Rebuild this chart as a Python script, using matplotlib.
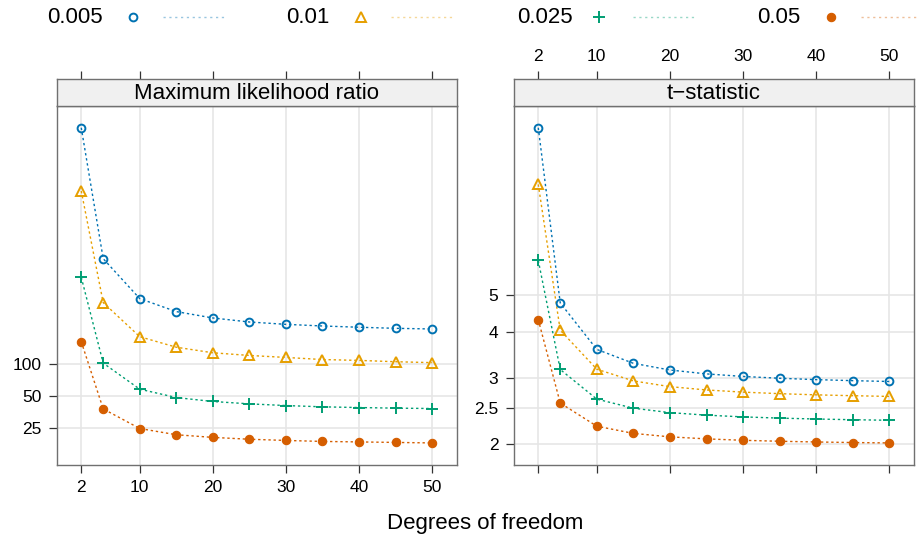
import matplotlib
matplotlib.use('Agg')
import matplotlib.pyplot as plt
import numpy as np
from matplotlib.lines import Line2D
from matplotlib.ticker import FixedLocator, FixedFormatter, NullLocator

plt.rcParams['font.family'] = ['Liberation Sans', 'DejaVu Sans']

# ---------------- data ----------------
df = [2, 5, 10, 15, 20, 25, 30, 35, 40, 45, 50]
alpha_labels = ['0.005', '0.01', '0.025', '0.05']

mlr_0005 = [15770, 950, 403, 305, 266, 244, 232, 224, 218, 213, 210]
mlr_001 = [4056, 370, 178, 142, 126, 119, 114, 109, 107, 104, 102]
mlr_0025 = [637, 101, 57.7, 48.2, 44.3, 42.1, 40.6, 39.5, 38.9, 38.4, 38.1]
mlr_005 = [160, 37.8, 24.8, 21.7, 20.5, 19.7, 19.2, 18.8, 18.6, 18.4, 18.2]

t_0005 = [14.089, 4.773, 3.581, 3.286, 3.153, 3.078, 3.030, 2.996, 2.971, 2.952, 2.937]
t_001 = [9.925, 4.032, 3.169, 2.947, 2.845, 2.787, 2.750, 2.724, 2.704, 2.690, 2.678]
t_0025 = [6.205, 3.163, 2.634, 2.490, 2.423, 2.385, 2.360, 2.342, 2.329, 2.319, 2.311]
t_005 = [4.303, 2.571, 2.228, 2.131, 2.086, 2.060, 2.042, 2.030, 2.021, 2.014, 2.009]

x_ticks = [2, 10, 20, 30, 40, 50]
mlr_ticks = [25, 50, 100]
mlr_tick_labels = ['25', '50', '100']
t_ticks = [2, 2.5, 3, 4, 5]
t_tick_labels = ['2', '2.5', '3', '4', '5']

panel_titles = ['Maximum likelihood ratio', 't\u2212statistic']
xlabel = 'Degrees of freedom'

# ---------------- styles ----------------
colors = ['#0072B2', '#E69F00', '#009E73', '#D55E00']
mstyles = [dict(marker='o', ms=5.6, mfc='none', mew=1.4),
           dict(marker='^', ms=7.4, mfc='none', mew=1.4),
           dict(marker='+', ms=8.2, mew=1.4),
           dict(marker='o', ms=6.0, mew=0.8)]
border = '#707070'
grid_col = '#e6e6e6'

W, H = 917, 540
fig = plt.figure(figsize=(W / 100, H / 100), dpi=100)

def fx(px):
    return px / W

def fy(py):
    return 1 - py / H

xlim = (2 - 0.07 * 48, 50 + 0.07 * 48)

panels = [
    dict(left=56.7, right=456.7, series=[mlr_0005, mlr_001, mlr_0025, mlr_005],
         yt=mlr_ticks, ytl=mlr_tick_labels, bottom_labels=True),
    dict(left=513.7, right=914.0, series=[t_0005, t_001, t_0025, t_005],
         yt=t_ticks, ytl=t_tick_labels, bottom_labels=False),
]
top_panel, bot_panel, strip_top = 105.7, 465.0, 79.0

for p, title in zip(panels, panel_titles):
    ax = fig.add_axes([fx(p['left']), fy(bot_panel), fx(p['right'] - p['left']),
                       (bot_panel - top_panel) / H])
    allv = np.concatenate([np.asarray(s, float) for s in p['series']])
    lo, hi = np.log(allv.min()), np.log(allv.max())
    ext = 0.07 * (hi - lo)
    ax.set_yscale('log')
    ax.set_ylim(np.exp(lo - ext), np.exp(hi + ext))
    ax.set_xlim(*xlim)
    for gx in x_ticks:
        ax.axvline(gx, color=grid_col, lw=1.2, zorder=0)
    for gy in p['yt']:
        ax.axhline(gy, color=grid_col, lw=1.2, zorder=0)
    for s, c, ms in zip(p['series'], colors, mstyles):
        ax.plot(df, s, color=c, lw=1.0, ls=(0, (1.7, 2.0)), zorder=2)
        ax.plot(df, s, ls='none', color=c, mec=c, zorder=3, **ms)
    ax.yaxis.set_major_locator(FixedLocator(p['yt']))
    ax.yaxis.set_major_formatter(FixedFormatter(p['ytl']))
    ax.yaxis.set_minor_locator(NullLocator())
    ax.xaxis.set_major_locator(FixedLocator(x_ticks))
    ax.xaxis.set_minor_locator(NullLocator())
    ax.tick_params(axis='both', direction='out', length=6, width=0.9,
                   color='#333333', labelsize=12.5, pad=5, top=False, right=False)
    if not p['bottom_labels']:
        ax.tick_params(axis='x', labelbottom=False)
    for sp in ax.spines.values():
        sp.set_color(border)
        sp.set_linewidth(1.0)

    # strip
    sax = fig.add_axes([fx(p['left']), fy(top_panel), fx(p['right'] - p['left']),
                        (top_panel - strip_top) / H])
    sax.set_facecolor('#f0f0f0')
    sax.set_xlim(*xlim)
    sax.set_ylim(0, 1)
    sax.xaxis.set_major_locator(FixedLocator(x_ticks))
    sax.xaxis.set_minor_locator(NullLocator())
    sax.xaxis.tick_top()
    sax.set_yticks([])
    sax.tick_params(axis='x', direction='out', length=6, width=0.9, color='#333333',
                    labelsize=12.5, pad=5, labeltop=not p['bottom_labels'],
                    bottom=False, labelbottom=False)
    for sp in sax.spines.values():
        sp.set_color(border)
        sp.set_linewidth(1.0)
    sax.text(0.5, 0.45, title, transform=sax.transAxes, ha='center', va='center',
             fontsize=16)

fig.text(fx(485), fy(524), xlabel, ha='center', va='center', fontsize=16)

# legend
text_cx = [74.5, 307.5, 544.5, 778.5]
mark_x = [133, 361, 599, 831]
line_x = [(163, 227), (391, 454), (633, 696), (861, 925)]
ly = 17.0
for lab, c, ms, tx, mx, (l0, l1) in zip(alpha_labels, colors, mstyles, text_cx, mark_x, line_x):
    fig.text(fx(tx), fy(ly + 0.5), lab, ha='center', va='center', fontsize=16)
    fig.add_artist(Line2D([fx(mx)], [fy(ly)], transform=fig.transFigure, ls='none',
                          color=c, mec=c, **ms))
    fig.add_artist(Line2D([fx(l0), fx(l1)], [fy(ly), fy(ly)], transform=fig.transFigure,
                          color=c, alpha=0.4, lw=1.0, ls=(0, (1.6, 2.6))))

fig.savefig('out.png', dpi=100)
